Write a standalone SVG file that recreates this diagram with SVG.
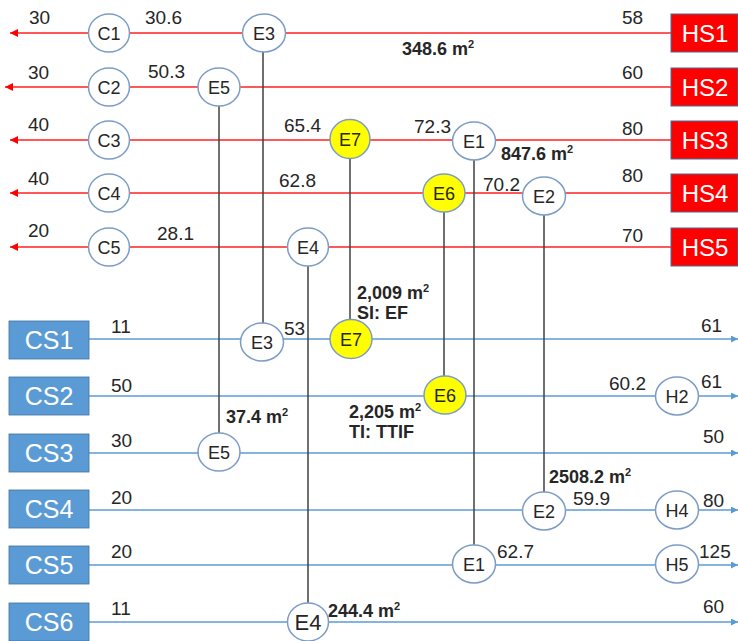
<svg xmlns="http://www.w3.org/2000/svg" width="738" height="641" viewBox="0 0 738 641">
<style>
text{font-family:"Liberation Sans",Arial,sans-serif;fill:#262626}
.num{font-size:19px}
.lab{font-size:18px;text-anchor:middle}
.big{font-size:22px;text-anchor:middle}
.bold{font-size:18px;font-weight:bold}
.sup{font-size:11px}
.hs{fill:#FF0000;stroke:#41719C;stroke-width:1}
.cs{fill:#5B9BD5;stroke:#41719C;stroke-width:0.8}
.bt{font-size:24px;fill:#FFFFFF;text-anchor:middle}
.ct{font-size:25px;fill:#FFFFFF;text-anchor:middle}
.node{fill:#FFFFFF;stroke:#7C9CC6;stroke-width:1.5}
.yel{fill:#FFFF00;stroke:#7C9CC6;stroke-width:1.5}
.hot{stroke:#FF2020;stroke-width:1.6;fill:none;marker-end:url(#ra)}
.cold{stroke:#5B9BD5;stroke-width:1.6;fill:none;marker-end:url(#ba)}
.vert{stroke:#404040;stroke-width:1.5;fill:none}
</style>
<defs>
<marker id="ra" viewBox="0 0 10 10" refX="10" refY="5" markerWidth="9" markerHeight="8" markerUnits="userSpaceOnUse" orient="auto">
<path d="M0,0 L10,5 L0,10 z" fill="#FF0000"/>
</marker>
<marker id="ba" viewBox="0 0 10 10" refX="10" refY="5" markerWidth="7" markerHeight="7" markerUnits="userSpaceOnUse" orient="auto">
<path d="M0,0 L10,5 L0,10 z" fill="#5B9BD5"/>
</marker>
</defs>
<rect width="738" height="641" fill="#FFFFFF"/>

<g id="connectors">
<line class="hot" x1="671" y1="33" x2="10" y2="33"/>
<line class="hot" x1="671" y1="87" x2="5" y2="87"/>
<line class="hot" x1="671" y1="140" x2="10" y2="140"/>
<line class="hot" x1="671" y1="193" x2="10" y2="193"/>
<line class="hot" x1="671" y1="247" x2="10" y2="247"/>
<line class="cold" x1="89" y1="339" x2="738" y2="339"/>
<line class="cold" x1="89" y1="396" x2="738" y2="396"/>
<line class="cold" x1="89" y1="453" x2="738" y2="453"/>
<line class="cold" x1="89" y1="510" x2="738" y2="510"/>
<line class="cold" x1="89" y1="565" x2="738" y2="565"/>
<line class="cold" x1="89" y1="622" x2="738" y2="622"/>
<line class="vert" x1="263" y1="33" x2="263" y2="342"/>
<line class="vert" x1="219" y1="87" x2="219" y2="452"/>
<line class="vert" x1="350" y1="140" x2="350" y2="339"/>
<line class="vert" x1="308" y1="247" x2="308" y2="622"/>
<line class="vert" x1="444" y1="193" x2="444" y2="395"/>
<line class="vert" x1="474" y1="141" x2="474" y2="564"/>
<line class="vert" x1="544" y1="195" x2="544" y2="511"/>
</g>

<g id="HS1"><rect class="hs" x="671" y="14" width="67" height="38"/><text class="bt" x="705" y="42">HS1</text></g>
<g id="HS2"><rect class="hs" x="671" y="68" width="67" height="38"/><text class="bt" x="705" y="96">HS2</text></g>
<g id="HS3"><rect class="hs" x="671" y="121" width="67" height="38"/><text class="bt" x="705" y="149">HS3</text></g>
<g id="HS4"><rect class="hs" x="671" y="174" width="67" height="38"/><text class="bt" x="705" y="202">HS4</text></g>
<g id="HS5"><rect class="hs" x="671" y="228" width="67" height="38"/><text class="bt" x="705" y="256">HS5</text></g>

<g id="CS1"><rect class="cs" x="9" y="321" width="80" height="38"/><text class="ct" x="49" y="349">CS1</text></g>
<g id="CS2"><rect class="cs" x="9" y="377" width="80" height="38"/><text class="ct" x="49" y="405">CS2</text></g>
<g id="CS3"><rect class="cs" x="9" y="434" width="80" height="38"/><text class="ct" x="49" y="462">CS3</text></g>
<g id="CS4"><rect class="cs" x="9" y="490" width="80" height="38"/><text class="ct" x="49" y="518">CS4</text></g>
<g id="CS5"><rect class="cs" x="9" y="546" width="80" height="38"/><text class="ct" x="49" y="574">CS5</text></g>
<g id="CS6"><rect class="cs" x="9" y="603" width="80" height="38"/><text class="ct" x="49" y="631">CS6</text></g>

<g id="C1"><ellipse class="node" cx="109" cy="33" rx="20.5" ry="19"/><text class="lab" x="109" y="40">C1</text></g>
<g id="C2"><ellipse class="node" cx="109" cy="87" rx="20.5" ry="19"/><text class="lab" x="109" y="94">C2</text></g>
<g id="C3"><ellipse class="node" cx="109" cy="140" rx="20.5" ry="19"/><text class="lab" x="109" y="147">C3</text></g>
<g id="C4"><ellipse class="node" cx="109" cy="193" rx="20.5" ry="19"/><text class="lab" x="109" y="200">C4</text></g>
<g id="C5"><ellipse class="node" cx="109" cy="247" rx="20.5" ry="19"/><text class="lab" x="109" y="254">C5</text></g>

<g id="E3-hot"><ellipse class="node" cx="264" cy="33" rx="21.5" ry="19"/><text class="lab" x="264" y="40">E3</text></g>
<g id="E5-hot"><ellipse class="node" cx="219" cy="87" rx="21" ry="19"/><text class="lab" x="219" y="94">E5</text></g>
<g id="E7-hot"><ellipse class="yel" cx="350" cy="139" rx="20" ry="19.5"/><text class="lab" x="350" y="146">E7</text></g>
<g id="E1-hot"><ellipse class="node" cx="474" cy="141" rx="21.5" ry="19"/><text class="lab" x="474" y="148">E1</text></g>
<g id="E6-hot"><ellipse class="yel" cx="444" cy="193" rx="21" ry="19"/><text class="lab" x="444" y="200">E6</text></g>
<g id="E2-hot"><ellipse class="node" cx="544" cy="196" rx="21.5" ry="19"/><text class="lab" x="544" y="203">E2</text></g>
<g id="E4-hot"><ellipse class="node" cx="308" cy="247" rx="20.5" ry="19"/><text class="lab" x="308" y="254">E4</text></g>

<g id="E3-cold"><ellipse class="node" cx="262" cy="342" rx="21.5" ry="19"/><text class="lab" x="262" y="349">E3</text></g>
<g id="E7-cold"><ellipse class="yel" cx="351" cy="339" rx="21" ry="19.5"/><text class="lab" x="351" y="346">E7</text></g>
<g id="E6-cold"><ellipse class="yel" cx="445" cy="395" rx="21" ry="19"/><text class="lab" x="445" y="402">E6</text></g>
<g id="E5-cold"><ellipse class="node" cx="219" cy="452" rx="21" ry="19"/><text class="lab" x="219" y="459">E5</text></g>
<g id="E2-cold"><ellipse class="node" cx="544" cy="511" rx="21.5" ry="19"/><text class="lab" x="544" y="518">E2</text></g>
<g id="E1-cold"><ellipse class="node" cx="474" cy="564" rx="21.5" ry="19"/><text class="lab" x="474" y="571">E1</text></g>
<g id="E4-cold"><ellipse class="node" cx="308" cy="622" rx="20.5" ry="19"/><text class="big" x="308" y="630">E4</text></g>
<g id="H2"><ellipse class="node" cx="677" cy="396" rx="21.5" ry="19"/><text class="lab" x="677" y="403">H2</text></g>
<g id="H4"><ellipse class="node" cx="677" cy="510" rx="21.5" ry="19"/><text class="lab" x="677" y="517">H4</text></g>
<g id="H5"><ellipse class="node" cx="677" cy="564" rx="21.5" ry="19"/><text class="lab" x="677" y="571">H5</text></g>

<g id="labels">
<text class="num" x="29" y="24">30</text>
<text class="num" x="145" y="24">30.6</text>
<text class="num" x="622" y="24">58</text>
<text class="num" x="28" y="79">30</text>
<text class="num" x="148" y="78">50.3</text>
<text class="num" x="622" y="79">60</text>
<text class="num" x="28" y="131">40</text>
<text class="num" x="284" y="132">65.4</text>
<text class="num" x="414" y="133">72.3</text>
<text class="num" x="622" y="135">80</text>
<text class="num" x="28" y="185">40</text>
<text class="num" x="279" y="187">62.8</text>
<text class="num" x="483" y="191">70.2</text>
<text class="num" x="622" y="182">80</text>
<text class="num" x="28" y="237">20</text>
<text class="num" x="157" y="240">28.1</text>
<text class="num" x="622" y="242">70</text>

<text class="num" x="111" y="333">11</text>
<text class="num" x="284" y="335">53</text>
<text class="num" x="701" y="332">61</text>
<text class="num" x="111" y="392">50</text>
<text class="num" x="609" y="390">60.2</text>
<text class="num" x="701" y="388">61</text>
<text class="num" x="111" y="447">30</text>
<text class="num" x="703" y="443">50</text>
<text class="num" x="111" y="504">20</text>
<text class="num" x="573" y="505">59.9</text>
<text class="num" x="703" y="507">80</text>
<text class="num" x="111" y="558">20</text>
<text class="num" x="497" y="558">62.7</text>
<text class="num" x="699" y="558">125</text>
<text class="num" x="111" y="615">11</text>
<text class="num" x="703" y="613">60</text>

<text class="bold" x="402" y="55">348.6 m<tspan class="sup" dy="-7">2</tspan></text>
<text class="bold" x="501" y="160">847.6 m<tspan class="sup" dy="-7">2</tspan></text>
<text class="bold" x="357" y="299">2,009 m<tspan class="sup" dy="-7">2</tspan></text>
<text class="bold" x="357" y="319">SI: EF</text>
<text class="bold" x="349" y="418">2,205 m<tspan class="sup" dy="-7">2</tspan></text>
<text class="bold" x="349" y="438">TI: TTIF</text>
<text class="bold" x="226" y="423">37.4 m<tspan class="sup" dy="-7">2</tspan></text>
<text class="bold" x="549" y="483">2508.2 m<tspan class="sup" dy="-7">2</tspan></text>
<text class="bold" x="328" y="617">244.4 m<tspan class="sup" dy="-7">2</tspan></text>
</g>
</svg>
